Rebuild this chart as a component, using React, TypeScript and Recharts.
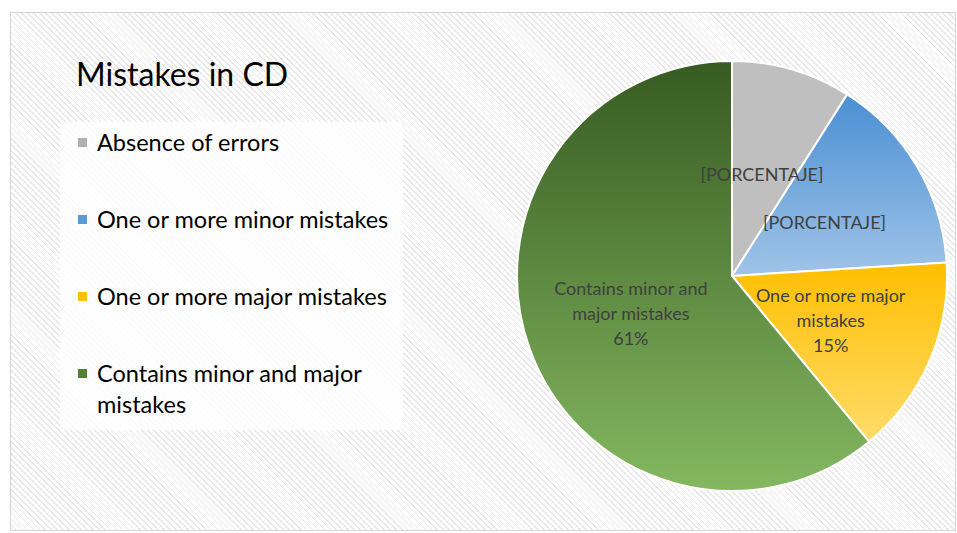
import React from 'react';
import { PieChart, Pie, Cell, Legend } from 'recharts';

const categories = [
  'Absence of errors',
  'One or more minor mistakes',
  'One or more major mistakes',
  'Contains minor and major mistakes',
];
const shares = [9, 15, 15, 61];
const labelLines = [
  ['[PORCENTAJE]'],
  ['[PORCENTAJE]'],
  ['One or more major', 'mistakes', '15%'],
  ['Contains minor and', 'major mistakes', '61%'],
];

const gradients = [
  { id: 'gGrey', top: '#bfbfbf', bottom: '#bfbfbf', swatch: '#b0b0b0' },
  { id: 'gBlue', top: '#4a8fd3', bottom: '#a0c4e8', swatch: '#5b9bd5' },
  { id: 'gGold', top: '#ffbf00', bottom: '#ffdb6a', swatch: '#ffc000' },
  { id: 'gGreen', top: '#375b22', bottom: '#84b860', swatch: '#548235' },
];

const data = categories.map((name, i) => ({ name, value: shares[i] }));

const FONT = 'Lato, "Open Sans", sans-serif';
const RAD = Math.PI / 180;

const renderLabel = (props: any) => {
  const { cx, cy, midAngle, outerRadius, index } = props;
  const r = outerRadius * 0.5;
  const x = cx + r * Math.cos(-midAngle * RAD);
  const y = cy + r * Math.sin(-midAngle * RAD);
  const lines = labelLines[index];
  const lh = 25;
  const y0 = y - ((lines.length - 1) * lh) / 2 + 1;
  return (
    <text x={x} y={y0} textAnchor="middle" fill="#404040" fontSize={18} fontFamily={FONT}>
      {lines.map((l, k) => (
        <tspan key={k} x={x} y={y0 + k * lh} dominantBaseline="central">{l}</tspan>
      ))}
    </text>
  );
};

// legend drawn in category order, the box is semi-transparent over the hatch
const renderLegend = () => (
  <div style={{ width: 343, height: 308, background: 'rgba(255,255,255,0.8)', position: 'relative' }}>
    {categories.map((name, i) => (
      <div key={name} style={{ position: 'absolute', left: 18, top: 5 + i * 77, display: 'flex', alignItems: 'flex-start' }}>
        <div style={{ width: 9, height: 9, marginTop: 11, background: gradients[i].swatch, flex: 'none' }} />
        <div style={{ marginLeft: 10, fontFamily: FONT, fontSize: 23.5, lineHeight: '31px', color: '#000', width: 300 }}>
          {name}
        </div>
      </div>
    ))}
  </div>
);

export default function App() {
  return (
    <div style={{ position: 'absolute', left: 0, top: 0, width: 957, height: 533, background: '#fff' }}>
      <div
        style={{
          position: 'absolute', left: 10, top: 12, width: 944, height: 517,
          border: '1px solid #d6d6d6',
          background: 'repeating-linear-gradient(45deg, #ffffff 0px, #ffffff 3px, #e6e6e6 3px, #e6e6e6 4.2px)',
        }}
      />
      <div style={{ position: 'absolute', left: 76, top: 54, fontFamily: FONT, fontSize: 32, color: '#000', lineHeight: '40px' }}>
        Mistakes in CD
      </div>
      <div style={{ position: 'absolute', left: 0, top: 0 }}>
        <PieChart width={957} height={533} margin={{ top: 0, right: 0, bottom: 0, left: 0 }}>
          <defs>
            {gradients.map((g) => (
              <linearGradient key={g.id} id={g.id} x1="0" y1="0" x2="0" y2="1">
                <stop offset="0%" stopColor={g.top} />
                <stop offset="100%" stopColor={g.bottom} />
              </linearGradient>
            ))}
          </defs>
          <Pie
            data={data}
            dataKey="value"
            nameKey="name"
            cx={732}
            cy={276}
            outerRadius={215}
            startAngle={90}
            endAngle={-270}
            stroke="#ffffff"
            strokeWidth={2}
            label={renderLabel}
            labelLine={false}
            isAnimationActive={false}
          >
            {data.map((d, i) => (
              <Cell key={d.name} fill={`url(#${gradients[i].id})`} />
            ))}
          </Pie>
          <Legend
            layout="vertical"
            align="center"
            verticalAlign="middle"
            content={renderLegend}
            wrapperStyle={{ left: 60, top: 122, width: 343, height: 308 }}
          />
        </PieChart>
      </div>
    </div>
  );
}
